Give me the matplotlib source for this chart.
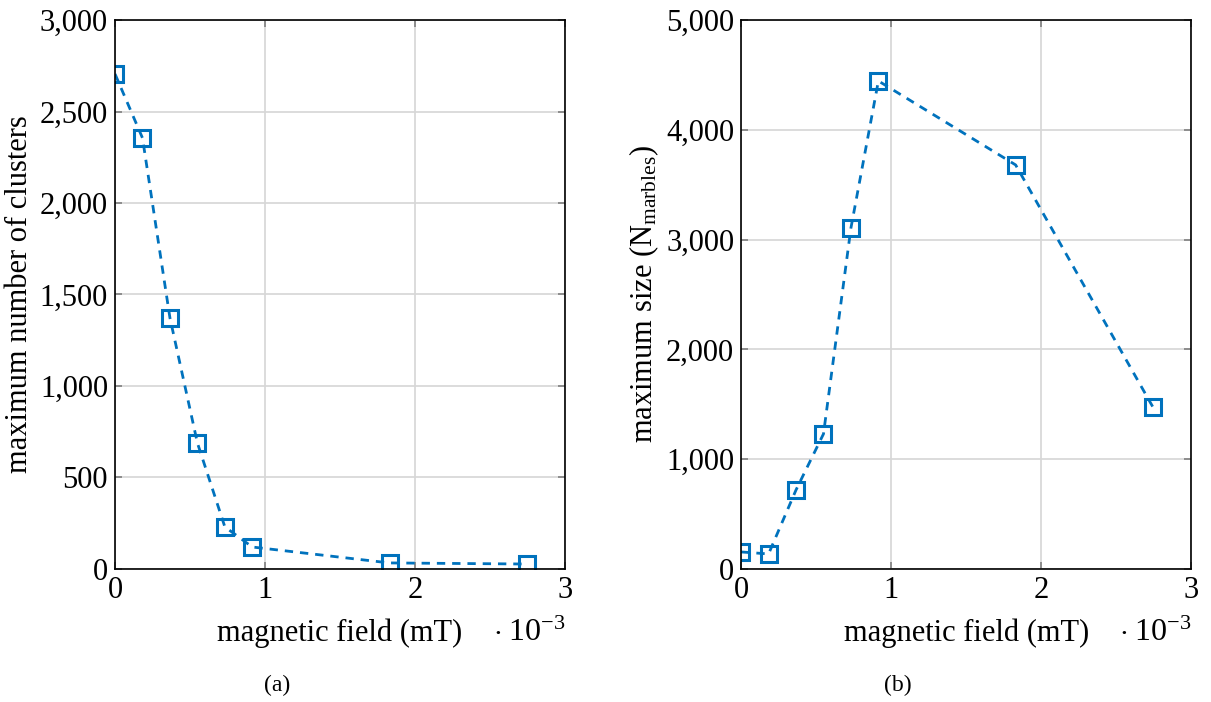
import matplotlib
matplotlib.use("Agg")
import matplotlib.pyplot as plt
from matplotlib.ticker import FuncFormatter

plt.rcParams["font.family"] = ["Liberation Serif", "DejaVu Serif"]
plt.rcParams["mathtext.fontset"] = "custom"
plt.rcParams["mathtext.rm"] = "Liberation Serif"
plt.rcParams["mathtext.it"] = "Liberation Serif:italic"

# magnetic field in units of 1e-3 mT
field = [0, 0.183, 0.366, 0.549, 0.732, 0.915, 1.83, 2.745]
max_clusters = [2705, 2355, 1372, 689, 230, 120, 33, 27]
max_size = [155, 137, 720, 1230, 3106, 4445, 3680, 1475]

blue = "#0072BD"
xticks = [0, 1, 2, 3]
left_yticks = [0, 500, 1000, 1500, 2000, 2500, 3000]
right_yticks = [0, 1000, 2000, 3000, 4000, 5000]

fig = plt.figure(figsize=(12.11, 7.02), dpi=100)
ax1 = fig.add_axes([0.095, 0.1895, 0.3716, 0.782])
ax2 = fig.add_axes([0.612, 0.1895, 0.3716, 0.782])

comma = FuncFormatter(lambda v, p: f"{int(v):,}")


def style(ax, yticks, ylabel):
    ax.set_xlim(0, 3)
    ax.set_ylim(yticks[0], yticks[-1])
    ax.set_xticks(xticks)
    ax.set_yticks(yticks)
    ax.yaxis.set_major_formatter(comma)
    ax.grid(True, color="#d6d6d6", linewidth=1.2)
    ax.set_axisbelow(True)
    ax.tick_params(direction="in", length=5, width=1.2, color="#7f7f7f",
                   labelsize=22, top=True, right=True, pad=5)
    for s in ax.spines.values():
        s.set_linewidth(1.2)
    ax.set_ylabel(ylabel, fontsize=22, labelpad=4)
    ax.set_xlabel("magnetic field (mT)", fontsize=22, labelpad=10)
    ax.text(1.0, -0.132, r"$\cdot\;10^{-3}$", transform=ax.transAxes,
            fontsize=23, ha="right", va="baseline")


ax1.plot(field, max_clusters, linestyle="--", color=blue, linewidth=2.0,
         marker="s", markersize=11, markerfacecolor="none",
         markeredgewidth=2.2, dashes=(3, 2.5))
style(ax1, left_yticks, "maximum number of clusters")

ax2.plot(field, max_size, linestyle="--", color=blue, linewidth=2.0,
         marker="s", markersize=11, markerfacecolor="none",
         markeredgewidth=2.2, dashes=(3, 2.5))
style(ax2, right_yticks, r"maximum size (N$_{\mathrm{marbles}}$)")

fig.text(277 / 1211, 1 - 685 / 702, "(a)", fontsize=17, ha="center", va="center")
fig.text(898 / 1211, 1 - 685 / 702, "(b)", fontsize=17, ha="center", va="center")

fig.savefig("out.png", dpi=100)
